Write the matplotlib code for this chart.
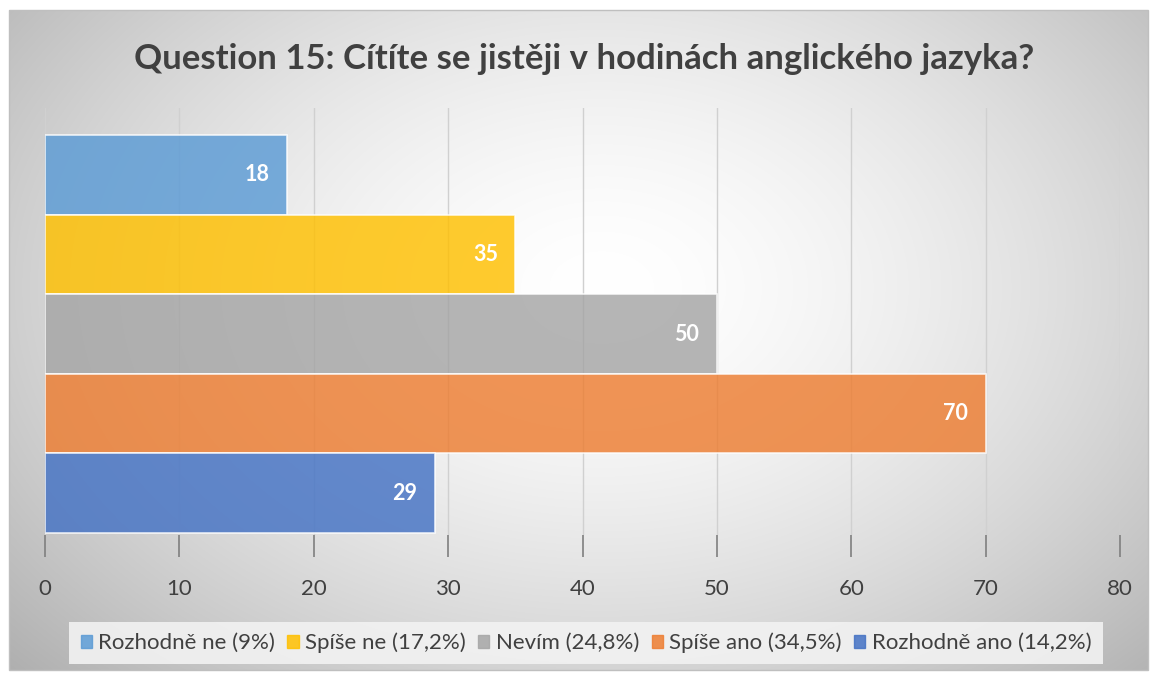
import numpy as np
import matplotlib
matplotlib.use("Agg")
import matplotlib.pyplot as plt
from matplotlib.patches import Rectangle

plt.rcParams['font.family'] = ['Lato', 'DejaVu Sans']

# chart data
labels = ['Rozhodně ne (9%)', 'Spíše ne (17,2%)', 'Nevím (24,8%)',
          'Spíše ano (34,5%)', 'Rozhodně ano (14,2%)']
values = [18, 35, 50, 70, 29]
colors = ['#5B9BD5', '#FFC000', '#A5A5A5', '#ED7D31', '#4472C4']
xticks = [0, 10, 20, 30, 40, 50, 60, 70, 80]
title = 'Question 15: Cítíte se jistěji v hodinách anglického jazyka?'

W, H = 1151, 677
fig = plt.figure(figsize=(W / 100, H / 100), dpi=100)

# background with radial gradient inside a thin border
bx0, by0, bx1, by1 = 9, 10, 1148, 670
bg = fig.add_axes([bx0 / W, 1 - by1 / H, (bx1 - bx0) / W, (by1 - by0) / H])
yy, xx = np.mgrid[0:by1 - by0, 0:bx1 - bx0]
cx, cy = (bx1 - bx0) * 0.52, (by1 - by0) * 0.42
r = np.sqrt(((xx - cx) / ((bx1 - bx0) * 0.6)) ** 2 + ((yy - cy) / ((by1 - by0) * 0.72)) ** 2)
shade = 1.0 - 0.24 * np.clip(r, 0, 1.2) ** 1.6
bg.imshow(np.dstack([shade] * 3), aspect='auto', extent=[0, 1, 0, 1])
bg.set_xlim(0, 1)
bg.set_ylim(0, 1)
bg.axis('off')
fig.patches.append(Rectangle((bx0 / W, 1 - by1 / H), (bx1 - bx0) / W, (by1 - by0) / H,
                             transform=fig.transFigure, fill=False,
                             edgecolor='#bfbfbf', linewidth=1, zorder=10))

# main plot area
ax_l, ax_r, ax_t, ax_b = 45, 1120, 108, 535
ax = fig.add_axes([ax_l / W, 1 - ax_b / H, (ax_r - ax_l) / W, (ax_b - ax_t) / H])
ax.patch.set_alpha(0)

ypos = np.arange(len(values))[::-1]
bars = ax.barh(ypos, values, height=1.0, color=colors, alpha=0.82,
               edgecolor='white', linewidth=1.2, zorder=3)
for y, v in zip(ypos, values):
    ax.text(v - 1.3, y, str(v), ha='right', va='center', color='white',
            fontsize=15.5, fontweight='bold', zorder=4)

ax.set_xlim(0, 80)
ax.set_ylim(-0.525, 4.84)
ax.set_xticks(xticks)
ax.xaxis.grid(True, color='#d0d0d0', linewidth=1, zorder=0)
ax.tick_params(axis='x', length=16, width=1.2, color='#7f7f7f', pad=16,
               labelsize=16, labelcolor='#404040')
ax.set_yticks([])
for s in ax.spines.values():
    s.set_visible(False)

fig.suptitle(title, x=584 / W, y=1 - 59 / H, va='center', fontsize=25,
             fontweight='bold', color='#404040')

handles = [Rectangle((0, 0), 1, 1, color=c, alpha=0.85) for c in colors]
leg = fig.legend(handles, labels, loc='center', bbox_to_anchor=(586 / W, 1 - 643 / H),
                 ncol=5, fontsize=16, frameon=True, fancybox=False,
                 handlelength=0.5, handleheight=0.5, handletextpad=0.3,
                 columnspacing=0.55, borderpad=0.5)
leg.get_frame().set_facecolor('#f2f2f2')
leg.get_frame().set_alpha(0.9)
leg.get_frame().set_edgecolor('none')
for t in leg.get_texts():
    t.set_color('#404040')

fig.savefig('out.png', dpi=100)
